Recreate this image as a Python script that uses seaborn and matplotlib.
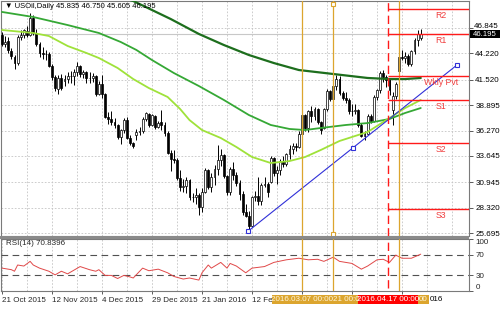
import numpy as np
import matplotlib
matplotlib.use("Agg")
import matplotlib.pyplot as plt
import matplotlib.transforms as mtransforms
from matplotlib.patches import Rectangle
import seaborn as sns

sns.set_style("white")
plt.rcParams['font.family'] = ['Liberation Sans', 'DejaVu Sans']

# ---------------- data ----------------
opens = [46.1,45.2,45.5,44.5,43.9,43.2,45.9,46.1,46.5,46.1,
         47.9,46.3,45.2,44.3,44.2,44.2,42.9,41.8,40.6,41.7,
         41.4,41.6,41.9,41.9,42.3,42.9,42.1,42.3,41.7,41.7,
         41.9,40.0,41.1,40.0,37.7,37.5,37.2,36.8,35.6,36.3,
         37.4,35.5,35.0,35.8,36.1,36.2,37.5,38.0,36.8,37.8,
         36.6,37.1,36.8,36.0,34.0,33.3,33.2,31.4,30.4,30.5,
         31.2,29.4,29.4,29.6,28.4,29.9,32.2,30.4,31.5,32.3,
         33.2,33.7,31.6,29.9,32.3,31.7,30.9,29.7,27.9,27.5,
         26.4,29.4,29.5,29.0,30.7,30.8,31.0,33.4,31.9,32.2,
         33.1,32.8,33.8,34.4,34.7,34.6,35.9,37.9,36.5,38.3,
         37.8,38.5,37.2,36.5,38.5,40.3,39.5,40.9,41.6,40.1,
         39.6,39.4,38.3,38.3,38.4,36.8,35.7,35.9,37.8,37.3,
         39.7,40.4,42.2,41.8,41.5,38.4,39.8,42.4,43.9,43.8,
         44.0,43.1,44.5,45.6,45.835]
highs = [46.4,46.0,45.9,44.8,44.1,46.1,46.6,46.7,47.0,48.4,
         48.2,46.7,45.4,44.9,44.6,44.4,43.1,42.0,42.0,42.1,
         42.0,42.3,42.4,42.6,43.3,43.0,42.5,42.4,42.3,42.2,
         42.0,41.4,42.0,40.1,38.2,38.3,37.6,36.9,36.4,37.6,
         37.7,35.8,35.1,36.4,36.6,37.7,38.2,38.1,38.0,37.9,
         37.3,38.4,37.1,36.2,34.3,34.3,33.4,32.2,31.3,31.5,
         31.3,29.8,30.3,29.8,30.3,32.4,32.3,31.9,32.7,34.8,
         34.4,33.8,31.7,32.5,33.0,32.0,31.2,30.0,28.7,28.0,
         29.5,30.0,31.5,30.9,31.5,31.0,33.6,33.5,32.6,33.3,
         33.6,34.0,34.8,35.0,35.0,36.2,38.1,38.0,38.4,38.8,
         38.7,38.6,37.3,38.6,40.6,40.5,41.0,42.0,41.9,40.3,
         40.2,39.6,39.0,39.0,38.5,37.0,36.2,38.0,38.0,39.9,
         40.6,42.4,42.5,42.0,41.6,40.2,41.3,44.1,44.6,44.4,
         44.2,44.6,45.8,46.6,46.75]
lows = [45.0,44.9,44.3,43.6,42.6,43.0,45.6,45.8,45.9,46.0,
        46.1,45.0,43.9,43.6,43.5,42.8,41.5,40.3,40.0,40.4,
        40.9,41.2,41.2,41.0,41.9,41.8,41.7,41.2,41.2,41.3,
        39.8,39.9,39.6,37.6,36.9,36.8,36.5,35.4,34.9,36.0,
        35.4,34.8,34.5,35.3,35.8,36.0,37.3,36.6,36.7,36.4,
        36.5,36.3,35.7,33.8,32.1,32.9,31.2,30.0,29.9,29.8,
        29.1,28.9,28.7,27.6,27.9,29.8,30.2,29.9,30.7,31.7,
        32.6,31.4,29.6,29.6,31.2,30.5,29.1,27.6,27.3,26.05,
        26.3,29.0,28.6,28.6,30.4,29.4,30.9,31.6,30.8,31.7,
        32.5,32.6,33.3,33.8,34.2,34.5,35.8,36.2,36.1,37.1,
        37.4,36.9,35.9,36.4,38.3,39.3,39.3,40.5,39.9,39.4,
        39.1,38.0,37.8,38.0,36.6,35.6,35.3,35.8,37.0,37.1,
        39.4,40.1,41.3,40.8,39.9,36.8,39.5,42.2,43.5,43.2,
        42.9,42.9,44.2,45.0,45.605]
closes = [45.2,45.4,44.6,44.0,43.2,45.9,46.1,46.6,46.1,47.9,
          46.3,45.2,44.3,44.2,44.2,42.9,41.8,40.7,41.7,40.7,
          41.6,41.9,41.9,42.3,42.9,42.1,42.3,41.7,41.7,41.9,
          40.0,41.1,40.0,37.7,37.5,37.2,36.8,35.6,36.3,37.4,
          35.5,35.0,34.7,36.1,36.2,37.5,38.1,36.8,37.9,36.6,
          37.0,36.8,36.0,34.0,33.3,33.2,31.4,30.4,30.5,31.2,
          29.4,29.4,29.6,28.4,29.9,32.2,30.4,31.5,32.3,33.2,
          33.7,31.6,29.9,32.3,31.7,30.9,29.7,27.9,27.5,26.4,
          29.4,29.5,29.0,30.7,30.8,29.9,33.4,31.9,32.2,33.1,
          32.8,33.8,34.4,34.7,34.6,35.9,37.9,36.5,38.3,37.8,
          38.5,37.2,36.3,38.5,40.3,39.5,40.9,41.6,40.1,39.6,
          39.4,38.3,38.3,38.4,36.8,35.7,35.9,37.8,37.3,39.7,
          40.4,42.2,41.8,41.5,40.4,39.8,41.1,43.9,43.8,44.0,
          43.1,44.5,45.6,46.2,46.195]

fast_ma_bar = [0,10,15,21,27,31,37,42,47,53,57,60,64,70,75,80,86,92,97,102,108,117,124,129,134]
fast_ma_val = [46.64,46.33,46.02,44.99,44.27,43.75,42.72,41.58,40.65,39.73,38.49,37.35,36.32,
               35.50,34.57,33.54,32.92,33.12,33.54,34.26,35.19,36.12,37.56,38.59,39.42]
mid_ma_bar = [0,10,21,31,38,43,48,55,63,71,79,86,92,97,102,110,117,124,129,134]
mid_ma_val = [48.50,47.98,47.15,46.33,45.40,44.58,43.54,42.20,40.86,39.42,37.87,36.84,36.43,
              36.32,36.53,36.84,37.04,37.46,38.08,38.59]
slow_ma_bar = [40,42,54,63,71,79,87,95,106,117,124,129,134]
slow_ma_val = [49.85,49.63,47.77,46.23,45.09,44.06,43.23,42.51,42.10,41.69,41.58,41.58,41.69]

rsi_bar = [0,3,4,5,7,9,10,12,15,17,19,21,25,28,30,31,33,35,37,39,41,42,45,47,50,53,55,58,60,
           63,64,66,67,70,72,73,75,78,80,84,87,91,95,98,101,103,106,108,112,115,117,120,122,
           124,126,128,131,134]
rsi_val = [44,41,38,50,48,57,50,44,38,31,38,33,47,41,38,41,30,30,24,30,27,25,44,39,42,35,28,23,25,
           21,35,50,44,55,44,53,48,35,44,47,55,60,63,60,61,57,65,57,53,42,48,60,61,
           55,69,63,63,70.84]

pivot_names = ['R2', 'R1', 'Wkly Pvt', 'S1', 'S2', 'S3']
pivot_levels = [48.77, 46.23, 41.89, 39.42, 34.98, 28.17]

trend_bar = [78.8, 112.2, 145.6]
trend_price = [25.90, 34.46, 43.03]

price_ticks = [25.695, 28.320, 30.945, 33.645, 36.270, 38.895, 41.520, 44.220, 46.845]
rsi_ticks = [0, 30, 70, 100]
# date labels as visible (later ones are hidden under the line labels)
date_tick_bars = [0, 16, 32, 48, 64, 80, 96, 112, 128]
date_tick_labels = ['21 Oct 2015', '12 Nov 2015', '4 Dec 2015', '29 Dec 2015', '21 Jan 2016',
                    '12 Fe', '', '', '']
date_tail_text = '016'
orange_bars = [96, 106, 127]
red_bar = 123.6
label_half = 9.6
last_price = 46.195
title = '\u25bc USOil,Daily 45.835 46.750 45.605 46.195'
rsi_title = 'RSI(14) 70.8396'

# ---------------- figure ----------------
W, H = 500, 309
fig = plt.figure(figsize=(W / 100, H / 100), dpi=100)
fig.patch.set_facecolor('white')


def rect(l, t, r, b):
    return [l / W, 1 - b / H, (r - l) / W, (b - t) / H]


ax = fig.add_axes(rect(1, 1, 469, 236))
axr = fig.add_axes(rect(1, 239, 469, 291))

XL = (-0.32, 149.44)
FS = 5.8
ORANGE = '#dca52e'
RED = '#ff1a1a'
GRID = '#c4c4c4'
SPINE = '#7a7a7a'

for a in (ax, axr):
    a.set_xlim(*XL)
    a.set_facecolor('white')
    for s in a.spines.values():
        s.set_color(SPINE)
        s.set_linewidth(0.8)

# grid
grid_bars = list(range(8, 150, 8))
ax.set_xticks(grid_bars)
ax.tick_params(axis='x', bottom=False, labelbottom=False)
ax.set_ylim(25.39, 49.63)
ax.yaxis.tick_right()
ax.set_yticks(price_ticks)
# the top tick label is written by hand just above the price box
ax.set_yticklabels([f'{v:.3f}' if v != price_ticks[-1] else '' for v in price_ticks])
ax.tick_params(axis='y', right=True, left=False, labelsize=FS, length=3, width=0.6,
               color='#404040', pad=1.5, labelcolor='black')
ax.grid(True, color=GRID, linestyle=(0, (2, 2)), linewidth=0.6)

# candles
idx = np.arange(len(closes))
o = np.array(opens); h = np.array(highs); l = np.array(lows); c = np.array(closes)
ax.vlines(idx, l, h, color='black', lw=0.7, zorder=3)
up = c >= o
ax.bar(idx[up], (c - o)[up], bottom=o[up], width=0.62, color='white',
       edgecolor='black', linewidth=0.5, zorder=4)
ax.bar(idx[~up], (o - c)[~up], bottom=c[~up], width=0.62, color='black',
       edgecolor='black', linewidth=0.5, zorder=4)

# moving averages
sns.lineplot(x=slow_ma_bar, y=slow_ma_val, ax=ax, color='#1d6e1d', lw=1.6, sort=False,
             estimator=None, legend=False, zorder=5)
sns.lineplot(x=mid_ma_bar, y=mid_ma_val, ax=ax, color='#35a835', lw=1.3, sort=False,
             estimator=None, legend=False, zorder=5)
sns.lineplot(x=fast_ma_bar, y=fast_ma_val, ax=ax, color='#9fe23a', lw=1.3, sort=False,
             estimator=None, legend=False, zorder=5)
ax.set_xlabel(''); ax.set_ylabel('')

# bid line
ax.axhline(last_price, color='#c8c8c8', lw=0.8, zorder=1)

# trend line
ax.plot(trend_bar, trend_price, color='#3030d8', lw=0.8, zorder=6)
ax.plot(trend_bar, trend_price, ls='none', marker='s', ms=3, mfc='white', mec='#3030d8',
        mew=0.8, zorder=7, clip_on=False)

# vertical event lines
for b in orange_bars:
    ax.axvline(b, color=ORANGE, lw=0.9, zorder=6)
    axr.axvline(b, color=ORANGE, lw=0.9, zorder=6)
ax.plot([orange_bars[1], orange_bars[1]], [49.32, 25.59], ls='none', marker='s', ms=3,
        mfc='white', mec=ORANGE, mew=0.8, zorder=7, clip_on=False)
ax.axvline(red_bar, color=RED, lw=1.0, ls=(0, (6, 3)), zorder=6)
axr.axvline(red_bar, ymin=0.06, ymax=1, color=RED, lw=1.0, ls=(0, (6, 3)), zorder=6)

# pivot lines
ax.hlines(pivot_levels, red_bar, XL[1], color=RED, lw=1.0, zorder=6)
for name, lev in zip(pivot_names, pivot_levels):
    ax.text(140.4, lev - 0.22, name, color='#f03c3c', fontsize=6.3, ha='center', va='top',
            zorder=7)

# right-axis price texts
trans = mtransforms.blended_transform_factory(ax.transAxes, ax.transData)
ax.text(1.0 + 4.5 / 468, price_ticks[-1] - 0.18, f'{price_ticks[-1]:.3f}', transform=trans,
        color='black', fontsize=FS, ha='left', va='bottom', clip_on=False, zorder=9)
ax.add_patch(Rectangle((1.0 + 1.0 / 468, last_price - 0.42), 30.0 / 468, 0.82,
                       transform=trans, facecolor='black', edgecolor='none',
                       clip_on=False, zorder=9))
ax.text(1.0 + 4.0 / 468, last_price - 0.03, f'{last_price:.3f}', transform=trans,
        color='white', fontsize=5.6, ha='left', va='center', clip_on=False, zorder=10)

# title
fig.text(5 / W, 1 - 7 / H, title, fontsize=5.5, ha='left', va='center', color='black')

# ---------------- RSI ----------------
axr.set_ylim(0, 100)
sns.lineplot(x=rsi_bar, y=rsi_val, ax=axr, color='#e04848', lw=0.7, sort=False,
             estimator=None, legend=False, zorder=4)
axr.set_xlabel(''); axr.set_ylabel('')
for lev in (30, 70):
    axr.axhline(lev, color='#505050', lw=0.8, ls=(0, (6, 4)), zorder=3)
axr.set_xticks(date_tick_bars)
axr.set_xticklabels(date_tick_labels, ha='left')
axr.set_xticks([b for b in grid_bars if b % 16 != 0], minor=True)
axr.tick_params(axis='x', which='major', bottom=True, length=2, width=0.6, color='#404040',
                labelsize=FS, pad=2.5)
axr.tick_params(axis='x', which='minor', bottom=False, length=0)
axr.grid(True, axis='x', which='both', color=GRID, linestyle=(0, (2, 2)), linewidth=0.6)
axr.grid(False, axis='y')
axr.yaxis.tick_right()
axr.set_yticks(rsi_ticks)
axr.set_yticklabels([str(v) for v in rsi_ticks])
axr.tick_params(axis='y', right=True, left=False, labelsize=FS, length=3, width=0.6,
                color='#404040', pad=1.5)
for t in axr.yaxis.get_major_ticks():
    if t.label2.get_text() == '100':
        t.label2.set_va('top')
    elif t.label2.get_text() == '0':
        t.label2.set_va('bottom')
axr.text(5 / 468, 1 - 4.5 / 52, rsi_title, transform=axr.transAxes, fontsize=FS,
         ha='left', va='center')

# time labels of the vertical lines (only their visible parts)
tb = mtransforms.blended_transform_factory(axr.transData, axr.transAxes)
y0, y1 = -13.2 / 52, -4.0 / 52
ym = (y0 + y1) / 2
b_0307 = (orange_bars[0] - label_half, orange_bars[0] + label_half)
b_red = (red_bar - label_half, red_bar + label_half)
b_0321 = (b_0307[1], b_red[0])
b_0420 = (b_red[1], orange_bars[2] + label_half)
segments = [
    (b_0307, '2016.03.07 00:00', ORANGE, '#fff6dc', 'center'),
    (b_0321, '21 00:0', ORANGE, '#fff6dc', 'left'),
    (b_red, '2016.04.17 00:00', '#ff0000', 'white', 'center'),
    (b_0420, '00', ORANGE, '#fff6dc', 'right'),
]
for (xa, xb), txt, fc, tc, al in segments:
    axr.add_patch(Rectangle((xa, y0), xb - xa, y1 - y0, transform=tb, facecolor=fc,
                            edgecolor='none', clip_on=False, zorder=8))
    xt = {'center': (xa + xb) / 2, 'left': xa + 0.3, 'right': xb - 0.3}[al]
    axr.text(xt, ym, txt, transform=tb, fontsize=FS, color=tc, ha=al, va='center',
             clip_on=False, zorder=9)
axr.text(b_0420[1] + 0.25, ym, date_tail_text, transform=tb, fontsize=FS, color='black',
         ha='left', va='center', clip_on=False, zorder=9)

# separator between panels
fig.patches.append(Rectangle((0, 1 - 239 / H), 469 / W, 2.6 / H, transform=fig.transFigure,
                             facecolor='#8a8a8a', edgecolor='none'))

fig.savefig('out.png', dpi=100)
